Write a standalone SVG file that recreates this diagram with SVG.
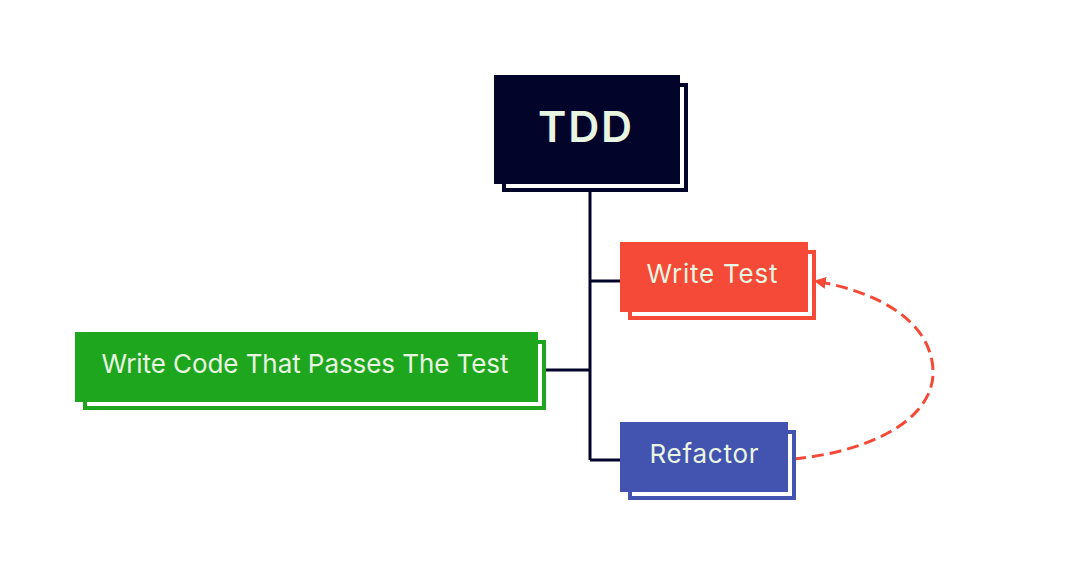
<svg xmlns="http://www.w3.org/2000/svg" width="1066" height="574" viewBox="0 0 1066 574">
<defs>
<style>
.lbl{font-family:Inter,"Open Sans","Liberation Sans",sans-serif;fill:#e8f5e0;text-anchor:middle}
.shadow{fill:#ffffff;stroke-width:4}
.conn{stroke:#02042a;stroke-width:3;fill:none}
.loop{stroke:#f64a38;stroke-width:3;fill:none;stroke-dasharray:12 6}
</style>
<marker id="ah" viewBox="0 0 10 10" refX="9" refY="5" markerWidth="4" markerHeight="4" markerUnits="strokeWidth" orient="auto">
<path d="M0,0 L10,5 L0,10 z" fill="#f64a38"/>
</marker>
</defs>
<rect width="1066" height="574" fill="#ffffff"/>
<g id="connectors">
<path class="conn" d="M590 184 V460 M590 281 H620 M546 370 H590 M590 460 H620"/>
<path class="loop" d="M794 459 C880 450 935 415 933 370 C931 322 880 292 815 281" marker-end="url(#ah)"/>
</g>
<g id="node-tdd">
<rect class="shadow" x="504" y="85" width="182" height="105" stroke="#02042a"/>
<rect x="494" y="75" width="186" height="109" fill="#02042a"/>
<text class="lbl" x="585" y="142" font-size="43" font-weight="600" textLength="94" lengthAdjust="spacing">TDD</text>
</g>
<g id="node-write-test">
<rect class="shadow" x="630" y="252" width="184" height="66" stroke="#f64a38"/>
<rect x="620" y="242" width="188" height="70" fill="#f64a38"/>
<text class="lbl" x="712" y="283" font-size="26" textLength="131" lengthAdjust="spacing">Write Test</text>
</g>
<g id="node-refactor">
<rect class="shadow" x="630" y="432" width="164" height="66" stroke="#4254b0"/>
<rect x="620" y="422" width="168" height="70" fill="#4254b0"/>
<text class="lbl" x="704" y="463" font-size="26" textLength="109" lengthAdjust="spacing">Refactor</text>
</g>
<g id="node-write-code">
<rect class="shadow" x="85" y="342" width="459" height="66" stroke="#1fa61f"/>
<rect x="75" y="332" width="463" height="70" fill="#1fa61f"/>
<text class="lbl" x="305" y="373" font-size="26" textLength="407" lengthAdjust="spacing">Write Code That Passes The Test</text>
</g>
</svg>
